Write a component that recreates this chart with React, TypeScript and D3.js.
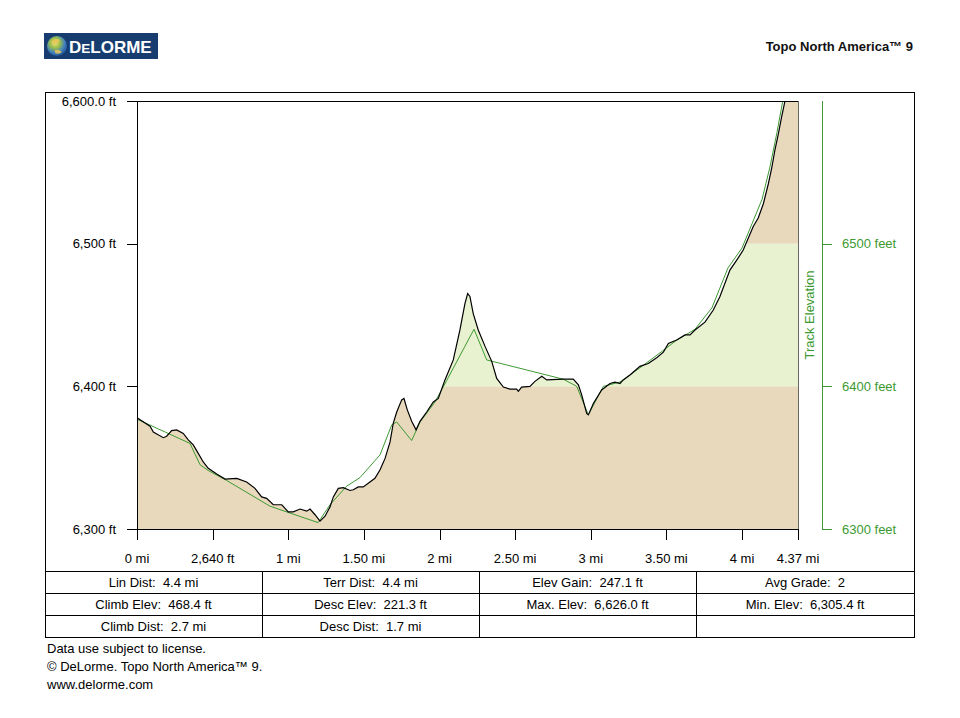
import React from "react";
import * as d3 from "d3";

// Terrain profile (distance in miles, elevation in feet)
const terrainDist = [0.000,0.086,0.108,0.174,0.196,0.229,0.262,0.306,0.339,0.372,0.405,0.438,0.471,0.527,0.582,0.659,0.725,0.780,0.824,0.857,0.901,0.957,1.000,1.033,1.078,1.122,1.144,1.177,1.210,1.243,1.276,1.298,1.331,1.364,1.408,1.430,1.463,1.496,1.540,1.573,1.607,1.640,1.673,1.694,1.717,1.750,1.765,1.787,1.816,1.845,1.871,1.915,1.959,1.992,2.036,2.091,2.135,2.168,2.186,2.201,2.223,2.256,2.301,2.345,2.378,2.422,2.466,2.510,2.521,2.543,2.598,2.631,2.676,2.709,2.818,2.884,2.918,2.940,2.973,2.984,3.017,3.072,3.127,3.160,3.193,3.215,3.259,3.325,3.380,3.436,3.480,3.513,3.568,3.623,3.656,3.689,3.755,3.810,3.854,3.920,3.965,4.008,4.074,4.107,4.141,4.174,4.196,4.218,4.240,4.262,4.284,4.330,4.370];
const terrainElev = [6378,6372,6368,6364,6365,6369,6369.5,6367,6362.5,6359,6353,6347,6342.5,6338.5,6335,6335.5,6333,6328.5,6322.5,6321.5,6317,6317,6312,6312,6314,6312.5,6314,6310,6305.5,6309,6315.5,6322.5,6328.5,6329,6327,6327.5,6329.5,6329.5,6333,6335.5,6341.5,6349.5,6361,6374,6382,6390.5,6391.5,6383.5,6375.5,6369.5,6375.5,6382,6389,6391.5,6404.5,6418.5,6439.5,6458,6465,6463,6451,6439.5,6428,6417.5,6405.5,6399.5,6398,6398,6396.5,6399.5,6400,6403.5,6407,6404.5,6405,6405,6401,6394,6381,6380,6388,6397.5,6402,6403,6402,6404.5,6408,6414,6416,6420,6424,6430,6432.5,6436,6436,6439.5,6445,6453.5,6463,6481.5,6488.5,6495.5,6512,6518,6528,6542,6553,6566,6577,6589,6600,6614,6626];

// Track elevation (GPS track)
const trackDist = [0.000,0.350,0.417,0.471,0.593,0.879,1.197,1.276,1.386,1.474,1.607,1.684,1.717,1.816,1.871,1.970,2.047,2.228,2.312,2.818,2.907,2.984,3.083,3.193,3.325,3.477,3.563,3.689,3.801,3.907,4.000,4.066,4.132,4.185,4.231,4.271,4.370];
const trackElev = [6377,6360,6345,6341,6334,6316,6304.5,6317,6330,6336,6352,6373,6375,6362,6375,6389,6404,6440,6418.5,6405,6400,6380,6400,6403,6413,6425,6432,6440,6455,6483,6497,6514,6531,6554,6578,6601,6630];

const xTickValues = [0, 0.5, 1, 1.5, 2, 2.5, 3, 3.5, 4, 4.37];
const xTickLabels = ["0 mi", "2,640 ft", "1 mi", "1.50 mi", "2 mi", "2.50 mi", "3 mi", "3.50 mi", "4 mi", "4.37 mi"];
const yTickValues = [6300, 6400, 6500, 6600];
const yTickLabels = ["6,300 ft", "6,400 ft", "6,500 ft", "6,600.0 ft"];
const rightTickValues = [6300, 6400, 6500];
const rightTickLabels = ["6300 feet", "6400 feet", "6500 feet"];
const bandLows = [6300, 6400, 6500];
const bandColors = ["#e8d9bc", "#e8f2d1", "#e8d9bc"];

const statsRows = [
  ["Lin Dist:  4.4 mi", "Terr Dist:  4.4 mi", "Elev Gain:  247.1 ft", "Avg Grade:  2"],
  ["Climb Elev:  468.4 ft", "Desc Elev:  221.3 ft", "Max. Elev:  6,626.0 ft", "Min. Elev:  6,305.4 ft"],
  ["Climb Dist:  2.7 mi", "Desc Dist:  1.7 mi", "", ""],
];
const footerLines = ["Data use subject to license.", "© DeLorme. Topo North America™ 9.", "www.delorme.com"];

const FONT = "Arial, 'Liberation Sans', Helvetica, sans-serif";
const GREEN = "#3d9a32";
const FS = 13;

export default function App() {
  const W = 960, H = 718;
  const left = 137, right = 798, top = 101, bottom = 529;
  const x = d3.scaleLinear().domain([0, 4.37]).range([left, right]);
  const y = d3.scaleLinear().domain([6300, 6600]).range([bottom, top]);

  const terrain = terrainDist.map((d, i) => [d, terrainElev[i]] as [number, number]);
  const track = trackDist.map((d, i) => [d, trackElev[i]] as [number, number]);

  const area = d3.area<[number, number]>().x(d => x(d[0])).y0(y(6300)).y1(d => y(d[1]));
  const line = d3.line<[number, number]>().x(d => x(d[0])).y(d => y(d[1]));

  const boxL = 45, boxR = 914, boxT = 92;
  const rowTop = 571, rowH = 22;
  const colEdges = [45, 262, 479, 696, 914];

  return (
    <svg width={W} height={H} style={{ position: "absolute", left: 0, top: 0, background: "#fff" }} fontFamily={FONT}>
      <defs>
        <clipPath id="plotClip">
          <rect x={left} y={top} width={right - left} height={bottom - top} />
        </clipPath>
        <clipPath id="areaClip">
          <path d={area(terrain) || ""} />
        </clipPath>
        <radialGradient id="globe" cx="40%" cy="35%" r="70%">
          <stop offset="0%" stopColor="#f6e27a" />
          <stop offset="35%" stopColor="#9bbf4a" />
          <stop offset="70%" stopColor="#3f7fbf" />
          <stop offset="100%" stopColor="#1d4f8f" />
        </radialGradient>
      </defs>

      {/* Logo */}
      <rect x={44} y={33} width={114} height={26} fill="#173d70" />
      <circle cx={57} cy={46} r={10} fill="url(#globe)" />
      <path d="M51,42 q4,-5 9,-2 q-2,4 -6,4 z M55,50 q4,-1 7,2 q-3,3 -7,1 z" fill="#e9c658" opacity={0.85} />
      <text x={69} y={53} fill="#fff" fontWeight="bold">
        <tspan fontSize={17}>D</tspan>
        <tspan fontSize={13.5}>E</tspan>
        <tspan fontSize={17}>LORME</tspan>
      </text>

      <text x={913} y={51} textAnchor="end" fontSize={13} fontWeight="bold" fill="#111">Topo North America™ 9</text>

      {/* Outer box */}
      <rect x={boxL + 0.5} y={boxT + 0.5} width={boxR - boxL} height={rowTop + rowH * 3 - boxT} fill="none" stroke="#000" />

      {/* Banded fill under terrain */}
      <g clipPath="url(#plotClip)">
        <g clipPath="url(#areaClip)">
          {bandLows.map((lo, i) => (
            <rect key={lo} x={left} y={y(lo + 100)} width={right - left} height={y(lo) - y(lo + 100)} fill={bandColors[i]} />
          ))}
        </g>
        <path d={line(track) || ""} fill="none" stroke={GREEN} strokeWidth={1} />
        <path d={line(terrain) || ""} fill="none" stroke="#000" strokeWidth={1.2} />
      </g>

      {/* Plot frame */}
      <line x1={left - 10} x2={right} y1={top + 0.5} y2={top + 0.5} stroke="#000" />
      <line x1={left + 0.5} x2={left + 0.5} y1={top} y2={bottom} stroke="#000" />
      <line x1={left} x2={right} y1={bottom + 0.5} y2={bottom + 0.5} stroke="#000" />
      <line x1={right + 0.5} x2={right + 0.5} y1={top} y2={bottom} stroke="#000" strokeWidth={0.6} />

      {/* Left axis */}
      {yTickValues.map((v, i) => (
        <g key={v}>
          <line x1={left - 10} x2={left} y1={Math.round(y(v)) + 0.5} y2={Math.round(y(v)) + 0.5} stroke="#000" />
          <text x={116} y={y(v) + 4.5} textAnchor="end" fontSize={FS} fill="#000">{yTickLabels[i]}</text>
        </g>
      ))}

      {/* Bottom axis */}
      {xTickValues.map((v, i) => (
        <g key={v}>
          <line x1={Math.round(x(v)) + 0.5} x2={Math.round(x(v)) + 0.5} y1={bottom} y2={bottom + 11} stroke="#000" />
          <text x={x(v)} y={563} textAnchor="middle" fontSize={FS} fill="#000">{xTickLabels[i]}</text>
        </g>
      ))}

      {/* Right (track) axis */}
      <line x1={822.5} x2={822.5} y1={top} y2={bottom} stroke={GREEN} />
      {rightTickValues.map((v, i) => (
        <g key={v}>
          <line x1={822} x2={832} y1={Math.round(y(v)) + 0.5} y2={Math.round(y(v)) + 0.5} stroke={GREEN} />
          <text x={842} y={y(v) + 4.5} fontSize={FS} fill={GREEN}>{rightTickLabels[i]}</text>
        </g>
      ))}
      <text transform={`translate(814,315) rotate(-90)`} textAnchor="middle" fontSize={FS} fill={GREEN}>Track Elevation</text>

      {/* Stats table */}
      {[0, 1, 2].map(r => (
        <line key={"h" + r} x1={boxL} x2={boxR} y1={rowTop + r * rowH + 0.5} y2={rowTop + r * rowH + 0.5} stroke="#000" />
      ))}
      {colEdges.slice(1, 4).map(cx => (
        <line key={"v" + cx} x1={cx + 0.5} x2={cx + 0.5} y1={rowTop} y2={rowTop + rowH * 3} stroke="#000" />
      ))}
      {statsRows.map((row, r) =>
        row.map((cell, c) => (
          <text key={r + "-" + c} x={(colEdges[c] + colEdges[c + 1]) / 2} y={rowTop + r * rowH + 16} textAnchor="middle" fontSize={FS} fill="#000" style={{ whiteSpace: "pre" }}>
            {cell}
          </text>
        ))
      )}

      {/* Footer */}
      {footerLines.map((t, i) => (
        <text key={i} x={47} y={653 + i * 18} fontSize={FS} fill="#000">{t}</text>
      ))}
    </svg>
  );
}
